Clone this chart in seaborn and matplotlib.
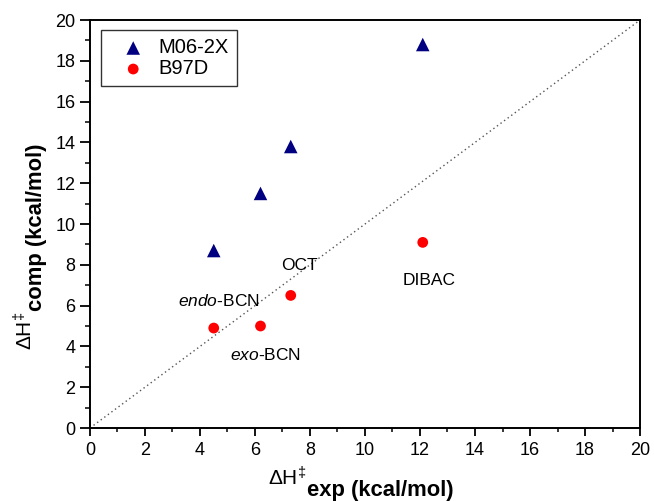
import matplotlib
matplotlib.use("Agg")
import matplotlib.pyplot as plt
from matplotlib.ticker import MultipleLocator
import seaborn as sns
import pandas as pd

# Activation enthalpies (kcal/mol)
compounds = ["endo-BCN", "exo-BCN", "OCT", "DIBAC"]
h_exp = [4.5, 6.2, 7.3, 12.1]
h_m062x = [8.7, 11.5, 13.8, 18.8]
h_b97d = [4.9, 5.0, 6.5, 9.1]

sns.set_theme(style="ticks")
plt.rcParams["font.family"] = ["Liberation Sans", "DejaVu Sans"]
plt.rcParams["mathtext.fontset"] = "custom"
plt.rcParams["mathtext.rm"] = "Liberation Sans"
plt.rcParams["mathtext.it"] = "Liberation Sans:italic"
plt.rcParams["mathtext.bf"] = "Liberation Sans:bold"
plt.rcParams["text.color"] = "black"
plt.rcParams["axes.labelcolor"] = "black"
plt.rcParams["xtick.color"] = "black"
plt.rcParams["ytick.color"] = "black"

df_m = pd.DataFrame({"exp": h_exp, "comp": h_m062x})
df_b = pd.DataFrame({"exp": h_exp, "comp": h_b97d})

fig = plt.figure(figsize=(6.54, 5.01), dpi=100)
ax = fig.add_axes([0.1376, 0.1457, 0.8410, 0.8143])

# parity line
ax.plot([0, 20], [0, 20], linestyle=(0, (1, 2.2)), color="#555555", lw=1.0, zorder=1)

sns.scatterplot(data=df_m, x="exp", y="comp", marker="^", s=95, color="#000080",
                edgecolor="none", label="M06-2X", ax=ax, zorder=3)
sns.scatterplot(data=df_b, x="exp", y="comp", marker="o", s=60, color="#ff0000",
                edgecolor="none", label="B97D", ax=ax, zorder=3)

ax.set_xlim(0, 20)
ax.set_ylim(0, 20)
ax.xaxis.set_major_locator(MultipleLocator(2))
ax.yaxis.set_major_locator(MultipleLocator(2))
ax.xaxis.set_minor_locator(MultipleLocator(1))
ax.yaxis.set_minor_locator(MultipleLocator(1))
ax.tick_params(axis="x", which="major", direction="out", length=6, width=1.3,
               labelsize=13, pad=4)
ax.tick_params(axis="y", which="major", direction="out", length=7, width=1.3,
               labelsize=13, pad=3.5)
ax.tick_params(axis="x", which="minor", direction="out", length=3, width=1.1)
ax.tick_params(axis="y", which="minor", direction="out", length=3.5, width=1.1)
for sp in ax.spines.values():
    sp.set_linewidth(1.4)
    sp.set_color("black")

ax.set_xlabel("")
ax.set_ylabel("")

# compound labels
label_fs = 12.5
ax.text(4.7, 6.25, r"$\it{endo}$-BCN", ha="center", va="center", fontsize=label_fs)
ax.text(6.4, 3.58, r"$\it{exo}$-BCN", ha="center", va="center", fontsize=label_fs)
ax.text(7.6, 7.99, "OCT", ha="center", va="center", fontsize=label_fs)
ax.text(12.35, 7.25, "DIBAC", ha="center", va="center", fontsize=label_fs)

# axis titles: ΔH‡ followed by a lowered bold suffix
xa = fig.text(268 / 654, 0.030, r"ΔH$^{\ddag}$", fontsize=15, ha="left", va="baseline")
ax.annotate("exp (kcal/mol)", xy=(1, 0), xycoords=xa, xytext=(0.5, -4),
            textcoords="offset points", fontsize=15.8, fontweight="bold",
            ha="left", va="baseline", annotation_clip=False)

ya = fig.text(0.049, 0.301, r"ΔH$^{\ddag}$", fontsize=15, ha="left", va="baseline",
              rotation=90, rotation_mode="anchor")
ax.annotate("comp (kcal/mol)", xy=(1, 1), xycoords=ya, xytext=(4.5, 0.5),
            textcoords="offset points", fontsize=15.8, fontweight="bold",
            ha="left", va="baseline", rotation=90, rotation_mode="anchor",
            annotation_clip=False)

leg = ax.legend(loc="upper left", bbox_to_anchor=(0.02, 0.975), fontsize=14.5,
                frameon=True, fancybox=False, edgecolor="black", borderpad=0.4,
                handlelength=2.4, handletextpad=0.05, labelspacing=0.1,
                borderaxespad=0)
leg.get_frame().set_linewidth(1.0)

fig.savefig("out.png", dpi=100)
